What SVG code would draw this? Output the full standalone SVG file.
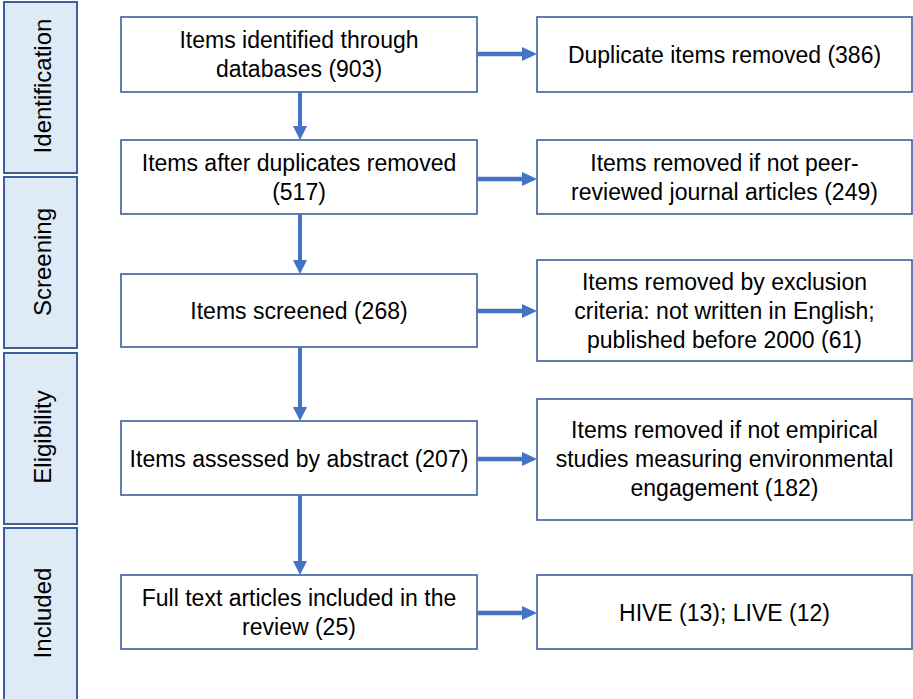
<svg xmlns="http://www.w3.org/2000/svg" width="913" height="699" viewBox="0 0 913 699">
<defs>
<style>
.bar{fill:#DEEAF6;stroke:#3A5E9E;stroke-width:2}
.box{fill:#FFFFFF;stroke:#3A5E9E;stroke-width:1.6}
.t{font-family:"Liberation Sans",Arial,sans-serif;font-size:23px;fill:#000000;text-anchor:middle;dominant-baseline:central}
.s{font-size:24px}
.v{stroke:#4472C4;stroke-width:4;fill:none}
.h{stroke:#4472C4;stroke-width:4.5;fill:none}
.head{fill:#4472C4}
</style>
</defs>
<rect width="913" height="699" fill="#FFFFFF"/>
<g id="stage-identification">
<rect class="bar" x="4" y="2" width="73" height="171"/>
<text class="t s" transform="translate(42,86) rotate(-90)">Identification</text>
</g>
<g id="stage-screening">
<rect class="bar" x="4" y="177" width="73" height="171"/>
<text class="t s" transform="translate(42,262) rotate(-90)">Screening</text>
</g>
<g id="stage-eligibility">
<rect class="bar" x="4" y="353" width="73" height="171"/>
<text class="t s" transform="translate(42,437) rotate(-90)">Eligibility</text>
</g>
<g id="stage-included">
<rect class="bar" x="4" y="528" width="73" height="175"/>
<text class="t s" transform="translate(42,613) rotate(-90)">Included</text>
</g>
<g id="n1">
<rect class="box" x="121" y="17" width="356" height="75"/>
<text class="t" x="299" y="40">Items identified through</text>
<text class="t" x="299" y="69">databases (903)</text>
</g>
<g id="n2">
<rect class="box" x="121" y="140" width="356" height="74"/>
<text class="t" x="299" y="163">Items after duplicates removed</text>
<text class="t" x="299" y="192">(517)</text>
</g>
<g id="n3">
<rect class="box" x="121" y="274" width="356" height="73"/>
<text class="t" x="299" y="311">Items screened (268)</text>
</g>
<g id="n4">
<rect class="box" x="121" y="421" width="356" height="74"/>
<text class="t" x="299" y="459">Items assessed by abstract (207)</text>
</g>
<g id="n5">
<rect class="box" x="121" y="575" width="356" height="74"/>
<text class="t" x="299" y="598">Full text articles included in the</text>
<text class="t" x="299" y="627">review (25)</text>
</g>
<g id="r1">
<rect class="box" x="537" y="17" width="375" height="75"/>
<text class="t" x="724.5" y="55">Duplicate items removed (386)</text>
</g>
<g id="r2">
<rect class="box" x="537" y="140" width="375" height="74"/>
<text class="t" x="724.5" y="163">Items removed if not peer-</text>
<text class="t" x="724.5" y="192">reviewed journal articles (249)</text>
</g>
<g id="r3">
<rect class="box" x="537" y="260" width="375" height="101"/>
<text class="t" x="724.5" y="282">Items removed by exclusion</text>
<text class="t" x="724.5" y="311">criteria: not written in English;</text>
<text class="t" x="724.5" y="340">published before 2000 (61)</text>
</g>
<g id="r4">
<rect class="box" x="537" y="399" width="375" height="121"/>
<text class="t" x="724.5" y="430">Items removed if not empirical</text>
<text class="t" x="724.5" y="459">studies measuring environmental</text>
<text class="t" x="724.5" y="488">engagement (182)</text>
</g>
<g id="r5">
<rect class="box" x="537" y="575" width="375" height="74"/>
<text class="t" x="724.5" y="613">HIVE (13); LIVE (12)</text>
</g>
<g id="connectors">
<line class="v" x1="300" y1="92" x2="300" y2="127"/>
<polygon class="head" points="293,126 307,126 300,140"/>
<line class="v" x1="300" y1="214" x2="300" y2="261"/>
<polygon class="head" points="293,260 307,260 300,274"/>
<line class="v" x1="300" y1="347" x2="300" y2="408"/>
<polygon class="head" points="293,407 307,407 300,421"/>
<line class="v" x1="300" y1="495" x2="300" y2="562"/>
<polygon class="head" points="293,561 307,561 300,575"/>
<line class="h" x1="477" y1="54" x2="523" y2="54"/>
<polygon class="head" points="522,47 522,61 537,54"/>
<line class="h" x1="477" y1="179" x2="523" y2="179"/>
<polygon class="head" points="522,172 522,186 537,179"/>
<line class="h" x1="477" y1="311" x2="523" y2="311"/>
<polygon class="head" points="522,304 522,318 537,311"/>
<line class="h" x1="477" y1="459" x2="523" y2="459"/>
<polygon class="head" points="522,452 522,466 537,459"/>
<line class="h" x1="477" y1="613" x2="523" y2="613"/>
<polygon class="head" points="522,606 522,620 537,613"/>
</g>
</svg>
